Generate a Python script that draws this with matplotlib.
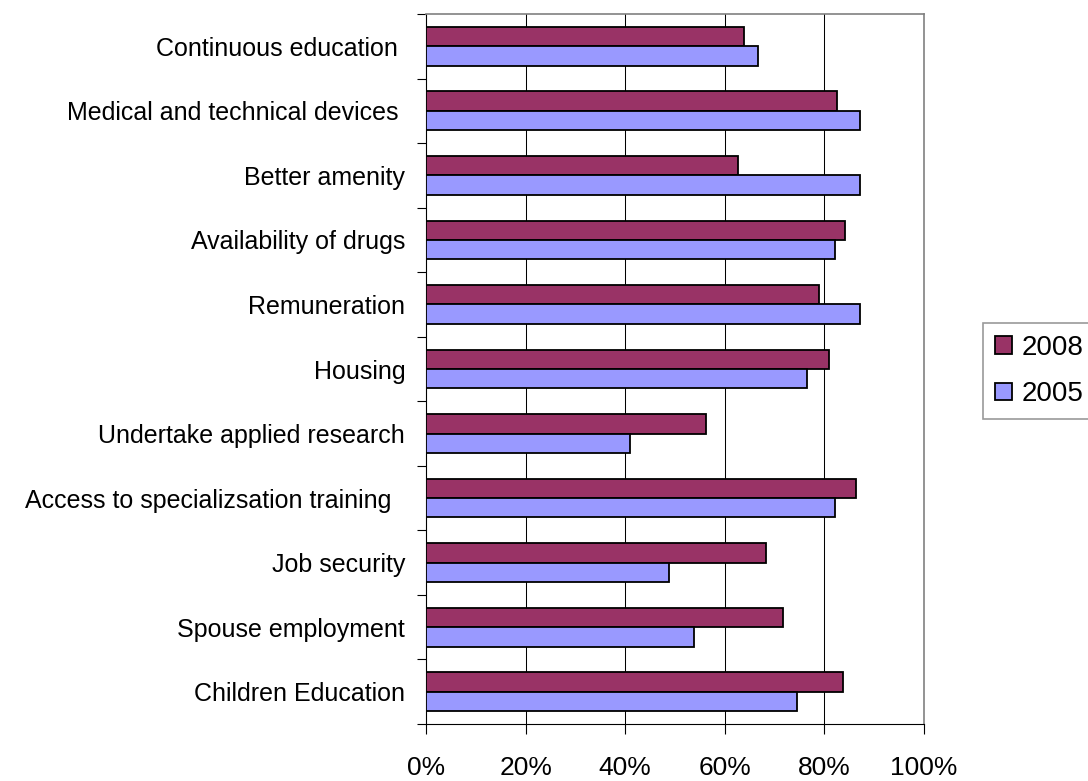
import matplotlib
matplotlib.use("Agg")
import matplotlib.pyplot as plt
import numpy as np

# categories from bottom to top
categories = [
    "Children Education",
    "Spouse employment",
    "Job security",
    "Access to specializsation training  ",
    "Undertake applied research",
    "Housing",
    "Remuneration",
    "Availability of drugs",
    "Better amenity",
    "Medical and technical devices ",
    "Continuous education ",
]
vals_2008 = [83.7, 71.7, 68.2, 86.4, 56.2, 80.9, 79.0, 84.1, 62.7, 82.5, 63.9]
vals_2005 = [74.4, 53.8, 48.8, 82.1, 41.0, 76.6, 87.1, 82.1, 87.1, 87.1, 66.6]
x_ticks = [0, 20, 40, 60, 80, 100]

plt.rcParams['font.family'] = ['Liberation Sans', 'DejaVu Sans']

fig = plt.figure(figsize=(10.88, 7.81), dpi=100)
ax = fig.add_axes([426 / 1088, 1 - 724 / 781, 498 / 1088, 710 / 781])

y = np.arange(len(categories))
h = 0.3
ax.barh(y + 0.15, vals_2008, height=h, color='#993366', edgecolor='black',
        linewidth=1.3, label='2008', zorder=3)
ax.barh(y - 0.15, vals_2005, height=h, color='#9999FF', edgecolor='black',
        linewidth=1.3, label='2005', zorder=3)

ax.set_xlim(0, 100)
ax.set_ylim(-0.5, len(categories) - 0.5)
ax.set_xticks(x_ticks)
ax.set_xticklabels([f"{t}%" for t in x_ticks], fontsize=19)
ax.set_yticks(y)
ax.set_yticklabels(categories, fontsize=18)
ax.set_yticks(np.arange(-0.5, len(categories), 1), minor=True)

ax.tick_params(axis='y', which='major', length=0, pad=15)
ax.tick_params(axis='y', which='minor', length=6.5, width=0.8, direction='out')
ax.tick_params(axis='x', length=7, width=0.8, direction='out', pad=16)
ax.xaxis.get_major_ticks()[-1].tick1line.set_color('#808080')

for t in x_ticks[1:-1]:
    ax.axvline(t, color='black', linewidth=0.75, zorder=1)

for s in ['top', 'right']:
    ax.spines[s].set_color('#808080')
    ax.spines[s].set_linewidth(1.2)
for s in ['left', 'bottom']:
    ax.spines[s].set_color('black')
    ax.spines[s].set_linewidth(0.8)

leg = fig.legend(loc='upper left', bbox_to_anchor=(983 / 1088, 1 - 323 / 781),
                 borderaxespad=0, fontsize=20, frameon=True, fancybox=False,
                 shadow=False, handlelength=0.61, handleheight=0.61,
                 handletextpad=0.36, labelspacing=0.74, borderpad=0.42)
leg.get_frame().set_edgecolor('#808080')
leg.get_frame().set_linewidth(1.2)

fig.savefig("out.png", dpi=100)
